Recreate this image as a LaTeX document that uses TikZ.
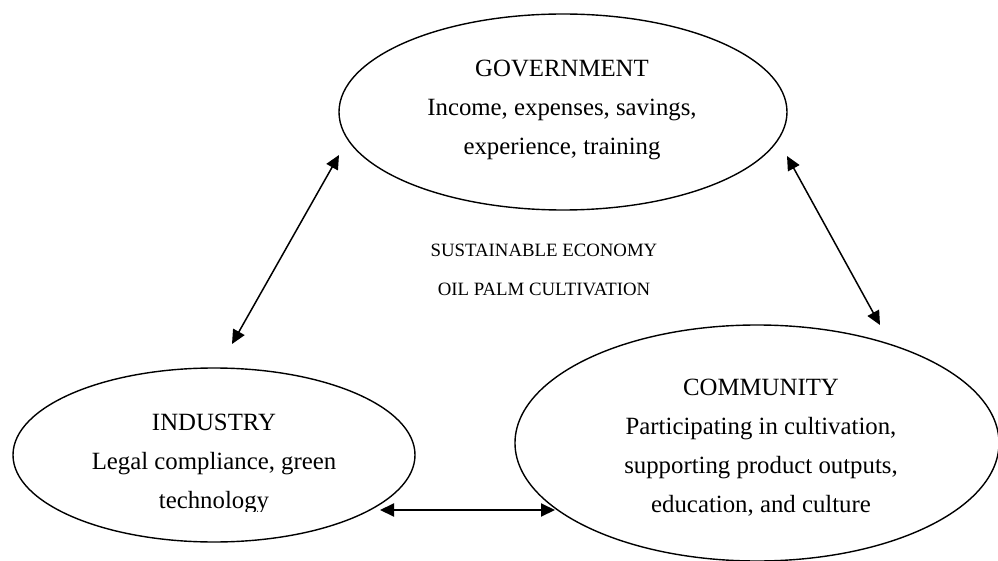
\documentclass[tikz,border=0pt]{standalone}
\usepackage{fontspec}
\setmainfont{Liberation Serif}
\usetikzlibrary{arrows.meta,shapes.geometric}
\begin{document}
\begin{tikzpicture}[x=1pt,y=-1pt,
  oval/.style={draw, ellipse, line width=1.4pt, inner sep=0pt},
  lbl/.style={anchor=base, inner sep=0pt, font=\fontsize{24.8}{30}\selectfont},
  smalllbl/.style={anchor=base, inner sep=0pt, font=\fontsize{18.8}{22}\selectfont},
  link/.style={line width=1.5pt, {Triangle[length=14pt,width=13pt]}-{Triangle[length=14pt,width=13pt]}}]
\useasboundingbox (0,0) rectangle (998,561);
% ellipses
\node[oval, minimum width=448pt, minimum height=196pt] (gov) at (563,112) {};
\node[oval, minimum width=402pt, minimum height=174pt] (ind) at (214,455) {};
\node[oval, minimum width=484pt, minimum height=236pt] (com) at (757,443) {};
% government text
\node[lbl] (gov1) at (562,77) {GOVERNMENT};
\node[lbl] (gov2) at (562,116) {Income, expenses, savings,};
\node[lbl] (gov3) at (562,155) {experience, training};
% centre text
\node[smalllbl] (mid1) at (544,257) {SUSTAINABLE ECONOMY};
\node[smalllbl] (mid2) at (544,295) {OIL PALM CULTIVATION};
% industry text
\node[lbl] (ind1) at (214,430) {INDUSTRY};
\node[lbl] (ind2) at (214,469) {Legal compliance, green};
\begin{scope}
\clip (100,480) rectangle (330,511);
\node[lbl] (ind3) at (214,508) {technology};
\end{scope}
% community text
\node[lbl] (com1) at (761,395) {COMMUNITY};
\node[lbl] (com2) at (761,434) {Participating in cultivation,};
\node[lbl] (com3) at (761,473) {supporting product outputs,};
\node[lbl] (com4) at (761,512) {education, and culture};
% arrow ends
\coordinate (gl) at (339,155);
\coordinate (il) at (232,344);
\coordinate (gr) at (787,156);
\coordinate (cr) at (880,325);
\coordinate (ir) at (380,510);
\coordinate (cl) at (555,510);
\draw[link] (il) -- (gl);
\draw[link] (gr) -- (cr);
\draw[link, line width=2pt] (ir) -- (cl);
\end{tikzpicture}
\end{document}
